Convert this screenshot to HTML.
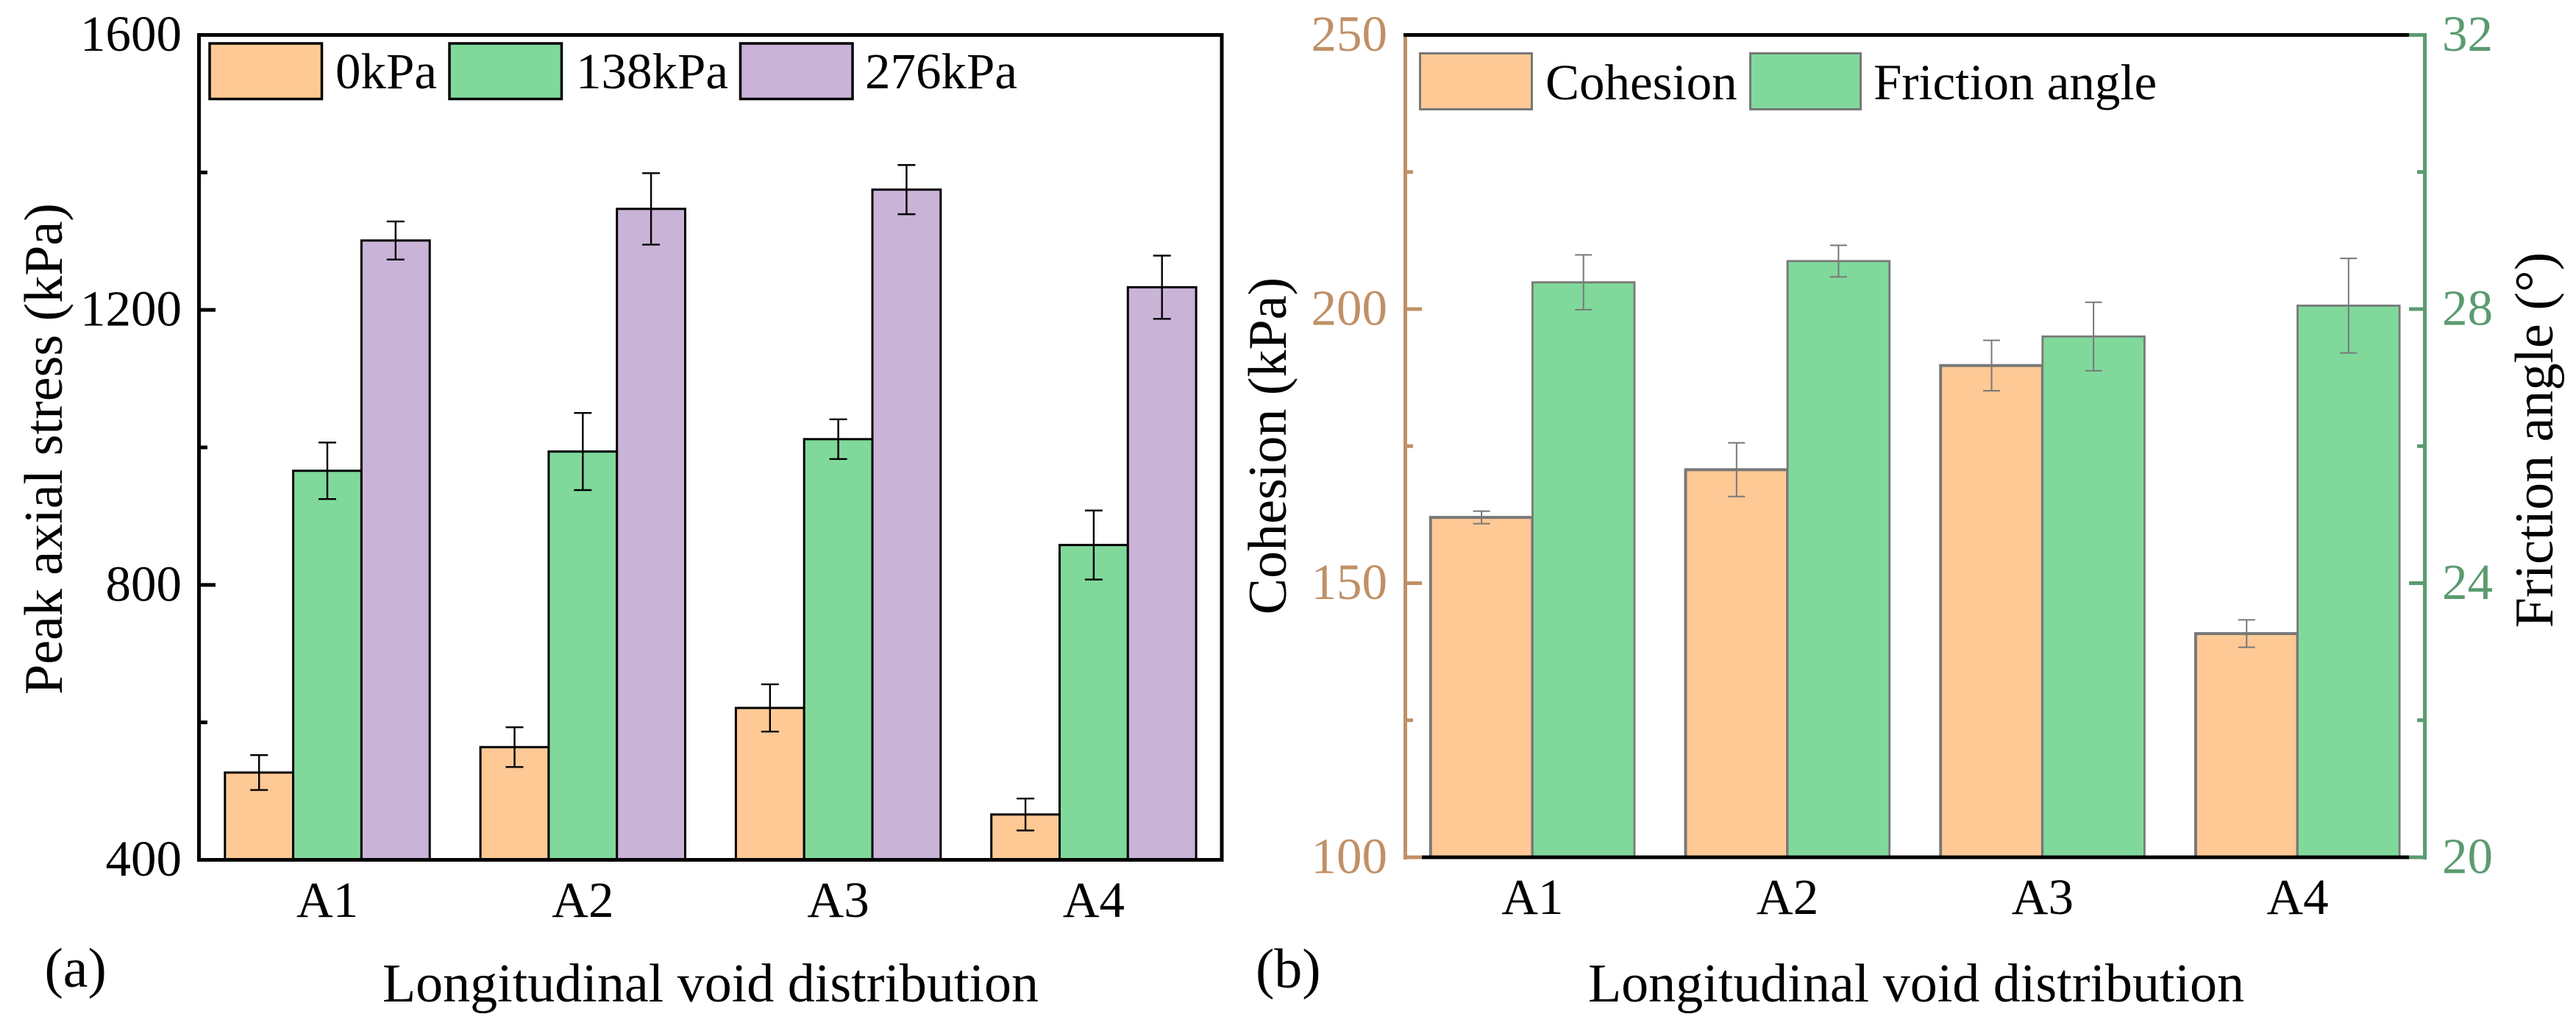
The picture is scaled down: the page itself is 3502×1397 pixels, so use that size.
<!DOCTYPE html>
<html lang="en">
<head>
<meta charset="utf-8">
<title>Peak axial stress and shear strength parameters</title>
<style>
html,body{margin:0;padding:0;background:#fff;}
svg{display:block;}
text{font-family:"Liberation Serif",serif;fill:#000;}
</style>
</head>
<body>
<svg id="figure" xmlns="http://www.w3.org/2000/svg" width="3502" height="1397" viewBox="0 0 3502 1397">
  <rect x="0" y="0" width="3502" height="1397" fill="#fff"/>
  <g id="panelA">
    <g id="a-bars"></g>
    <g id="a-errs"></g>
    <rect x="270.5" y="47.5" width="1390.5" height="1121" fill="none" stroke="#000" stroke-width="5"/>
    <g id="a-ticks"></g>
    <g id="a-cats"></g>
    <text x="84" y="610" font-size="74" text-anchor="middle" transform="rotate(-90 84 610)">Peak axial stress (kPa)</text>
    <text x="966" y="1361" font-size="74" text-anchor="middle">Longitudinal void distribution</text>
    <text x="60.500" y="1341" font-size="76">(a)</text>
    <g>
      <rect x="285" y="59" width="152.500" height="75.500" fill="#fec995" stroke="#000" stroke-width="3.500"/>
      <text x="456" y="120" font-size="69">0kPa</text>
      <rect x="611" y="59" width="152.500" height="75.500" fill="#80d99b" stroke="#000" stroke-width="3.500"/>
      <text x="783" y="120" font-size="69">138kPa</text>
      <rect x="1006.500" y="59" width="152.500" height="75.500" fill="#c9b4d8" stroke="#000" stroke-width="3.500"/>
      <text x="1176" y="120" font-size="69">276kPa</text>
    </g>
  </g>
  <g id="panelB">
    <g id="b-bars"></g>
    <g id="b-errs"></g>
    <rect x="1908" y="45" width="5" height="1123" fill="#c09066"/>
    <rect x="1908" y="1162.500" width="25" height="5" fill="#c09066"/>
    <rect x="3294" y="45" width="5" height="1123" fill="#5b9b70"/>
    <rect x="1908" y="45" width="1367" height="5" fill="#000"/>
    <rect x="3275" y="45" width="24" height="5" fill="#5b9b70"/>
    <rect x="1933" y="1162.500" width="1342" height="5" fill="#000"/>
    <rect x="3275" y="1162.500" width="24" height="5" fill="#5b9b70"/>
    <g id="b-ticks-left"></g>
    <g id="b-ticks-right"></g>
    <g id="b-cats"></g>
    <text x="1748" y="606" font-size="74" text-anchor="middle" transform="rotate(-90 1748 606)">Cohesion (kPa)</text>
    <text x="3470" y="598" font-size="74" text-anchor="middle" transform="rotate(-90 3470 598)">Friction angle (°)</text>
    <text x="2605" y="1361" font-size="74" text-anchor="middle">Longitudinal void distribution</text>
    <text x="1707" y="1342" font-size="76">(b)</text>
    <g>
      <rect x="1930.500" y="72.500" width="152" height="76" fill="#fec995" stroke="#787878" stroke-width="3"/>
      <text x="2101" y="135" font-size="69">Cohesion</text>
      <rect x="2379.500" y="72.500" width="150" height="76" fill="#80d99b" stroke="#787878" stroke-width="3"/>
      <text x="2547" y="135" font-size="69">Friction angle</text>
    </g>
  </g>
</svg>
<script>
/* Panel (a) data */
const categoriesA = ["A1", "A2", "A3", "A4"];
const stress0kPa = [527, 564, 621, 466];
const stress0kPaErr = [25.4, 28.9, 34.4, 23.2];
const stress138kPa = [966, 994, 1012, 858];
const stress138kPaErr = [41.1, 56.1, 28.9, 50.2];
const stress276kPa = [1301, 1347, 1375, 1233];
const stress276kPaErr = [27.7, 52, 35.8, 46];
const stressTickLabels = [400, 800, 1200, 1600];
const stressMinorTicks = [600, 1000, 1400];

/* Panel (b) data */
const categoriesB = ["A1", "A2", "A3", "A4"];
const cohesion = [162, 170.7, 189.7, 140.8];
const cohesionErr = [1.14, 4.9, 4.6, 2.5];
const friction = [28.39, 28.7, 27.6, 28.05];
const frictionErr = [0.4, 0.23, 0.5, 0.69];
const cohesionTickLabels = [100, 150, 200, 250];
const cohesionMinorTicks = [125, 175, 225];
const frictionTickLabels = [20, 24, 28, 32];
const frictionMinorTicks = [22, 26, 30];

const SVGNS = "http://www.w3.org/2000/svg";
function make(tag, parent, attrs) {
  const el = document.createElementNS(SVGNS, tag);
  for (const k in attrs) el.setAttribute(k, attrs[k]);
  parent.appendChild(el);
  return el;
}
const g = function (id) { return document.getElementById(id); };

/* Axis functions */
const yStress = function (v) { return 1168.5 - (v - 400) * 1121 / 1200; };
const yCohesion = function (v) { return 1165 - (v - 100) * 1117.5 / 150; };
const yFriction = function (v) { return 1165 - (v - 20) * 1117.5 / 12; };
const xBarA = function (cat, s) { return 305.8 + cat * 347.3 + s * 92.8; };
const xBarB = function (cat, s) { return 1944.8 + cat * 346.7 + s * 138.6; };

function drawBar(layer, errLayer, x, w, top, base, errTop, errBottom, fill, stroke, sw, errStroke, capW, errW, name) {
  const bar = make("rect", layer, { x: x, y: top, width: w, height: Math.max(0, base - top), fill: fill, stroke: stroke, "stroke-width": sw });
  
  
  const cx = x + w / 2;
  const stem = make("line", errLayer, { x1: cx, x2: cx, y1: errTop, y2: errBottom, stroke: errStroke, "stroke-width": errW });
  
  
  const capT = make("line", errLayer, { x1: cx - capW / 2, x2: cx + capW / 2, y1: errTop, y2: errTop, stroke: errStroke, "stroke-width": errW });
  
  
  const capB = make("line", errLayer, { x1: cx - capW / 2, x2: cx + capW / 2, y1: errBottom, y2: errBottom, stroke: errStroke, "stroke-width": errW });
  
  
}

function drawTick(layer, x1, x2, y, color, name) {
  const t = make("line", layer, { x1: x1, x2: x2, y1: y, y2: y, stroke: color, "stroke-width": 5 });
  
  
}

function drawLabel(layer, x, y, anchor, color, str, name) {
  const t = make("text", layer, { x: x, y: y, "text-anchor": anchor, "font-size": 69 });
  t.style.fill = color;
  t.textContent = str;
  
  
}

/* Panel (a) */
const seriesA = [
  { key: "0kpa", vals: stress0kPa, errs: stress0kPaErr, fill: "#fec995" },
  { key: "138kpa", vals: stress138kPa, errs: stress138kPaErr, fill: "#80d99b" },
  { key: "276kpa", vals: stress276kPa, errs: stress276kPaErr, fill: "#c9b4d8" }
];
seriesA.forEach(function (s, si) {
  s.vals.forEach(function (v, c) {
    drawBar(g("a-bars"), g("a-errs"), xBarA(c, si), 92.8, yStress(v), yStress(400),
      yStress(v + s.errs[c]), yStress(v - s.errs[c]), s.fill, "#000", 3, "#000", 24, 2.4,
      s.key + "-" + categoriesA[c].toLowerCase());
  });
});
stressTickLabels.forEach(function (v) {
  if (v !== 400 && v !== 1600) drawTick(g("a-ticks"), 270, 293, yStress(v), "#000", "y-tick-" + v);
  drawLabel(g("a-ticks"), 247, yStress(v) + 21.5, "end", "#000", String(v), "y-tick-label-" + v);
});
stressMinorTicks.forEach(function (v) {
  drawTick(g("a-ticks"), 270, 282, yStress(v), "#000", "y-minor-tick-" + v);
});
categoriesA.forEach(function (c, i) {
  drawLabel(g("a-cats"), xBarA(i, 1.5), 1246, "middle", "#000", c, "x-tick-label-" + c.toLowerCase());
});

/* Panel (b) */
cohesion.forEach(function (v, c) {
  drawBar(g("b-bars"), g("b-errs"), xBarB(c, 0), 138.6, yCohesion(v), 1165,
    yCohesion(v + cohesionErr[c]), yCohesion(v - cohesionErr[c]), "#fec995", "#787878", 4, "#787878", 23, 2,
    "cohesion-" + categoriesB[c].toLowerCase());
});
friction.forEach(function (v, c) {
  drawBar(g("b-bars"), g("b-errs"), xBarB(c, 1), 138.6, yFriction(v), 1165,
    yFriction(v + frictionErr[c]), yFriction(v - frictionErr[c]), "#80d99b", "#787878", 2.8, "#787878", 23, 2,
    "friction-" + categoriesB[c].toLowerCase());
});
cohesionTickLabels.forEach(function (v) {
  if (v !== 100 && v !== 250) drawTick(g("b-ticks-left"), 1910, 1933, yCohesion(v), "#c09066", "cohesion-tick-" + v);
  drawLabel(g("b-ticks-left"), 1886, yCohesion(v) + 21.5, "end", "#c09066", String(v), "cohesion-tick-label-" + v);
});
cohesionMinorTicks.forEach(function (v) {
  drawTick(g("b-ticks-left"), 1910, 1921, yCohesion(v), "#c09066", "cohesion-minor-tick-" + v);
});
frictionTickLabels.forEach(function (v) {
  if (v !== 20 && v !== 32) drawTick(g("b-ticks-right"), 3275, 3296, yFriction(v), "#5b9b70", "friction-tick-" + v);
  drawLabel(g("b-ticks-right"), 3320, yFriction(v) + 21.5, "start", "#5b9b70", String(v), "friction-tick-label-" + v);
});
frictionMinorTicks.forEach(function (v) {
  drawTick(g("b-ticks-right"), 3286, 3296, yFriction(v), "#5b9b70", "friction-minor-tick-" + v);
});
categoriesB.forEach(function (c, i) {
  drawLabel(g("b-cats"), xBarB(i, 1), 1242, "middle", "#000", c, "b-x-tick-label-" + c.toLowerCase());
});
</script>
</body>
</html>
